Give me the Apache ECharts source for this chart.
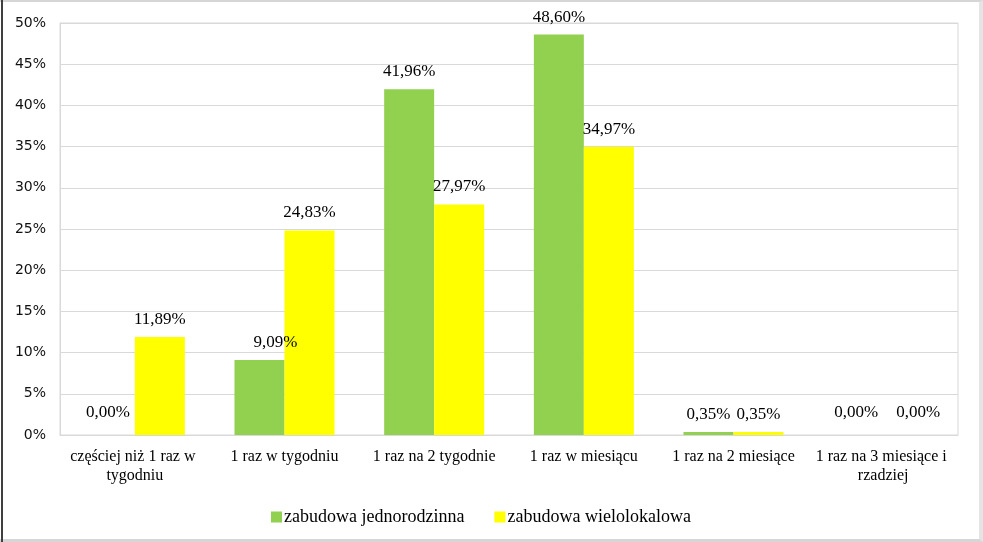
<!DOCTYPE html>
<html>
<head>
<meta charset="utf-8">
<script src="https://cdn.jsdelivr.net/npm/echarts@6/dist/echarts.min.js"></script>
<style>
html,body{margin:0;padding:0;background:#fff;}
#wrap{position:relative;width:983px;height:542px;overflow:hidden;}
#chart{position:absolute;left:0;top:0;width:983px;height:542px;}
#frame{position:absolute;left:0;top:0;width:983px;height:542px;box-sizing:border-box;pointer-events:none;
 border-top:2px solid #d6d6d6;border-bottom:3px solid #d6d6d6;border-right:4px solid #e4e4e4;}
#lft{position:absolute;left:1px;top:0;width:2px;height:542px;background:#3f3f3f;pointer-events:none;}
</style>
</head>
<body>
<div id="wrap"><div id="chart"></div><div id="frame"></div><div id="lft"></div></div>
<script>
var categories = ["częściej niż 1 raz w tygodniu", "1 raz w tygodniu", "1 raz na 2 tygodnie", "1 raz w miesiącu", "1 raz na 2 miesiące", "1 raz na 3 miesiące i rzadziej"];
var seriesNames = ["zabudowa jednorodzinna", "zabudowa wielolokalowa"];
var jednorodzinna = [0.00, 9.09, 41.96, 48.60, 0.35, 0.00];
var wielolokalowa = [11.89, 24.83, 27.97, 34.97, 0.35, 0.00];
var yTicks = [0, 5, 10, 15, 20, 25, 30, 35, 40, 45, 50];

var serif = "'Liberation Serif', 'Times New Roman', serif";
function fmt(v){ return v.toFixed(2).replace('.', ',') + '%'; }

var labelStyle = {
  show: true, position: 'top', distance: 9,
  fontFamily: serif, fontSize: 17, color: '#000',
  formatter: function(p){ return fmt(p.value); }
};

var greenData = jednorodzinna.map(function(v, i){
  var d = {value: v};
  if (i === 1) d.label = {offset: [16, 0]};
  else if (v === 0) d.label = {offset: [-2, -5]};
  return d;
});
var yellowData = wielolokalowa.map(function(v, i){
  var d = {value: v};
  if (v === 0) d.label = {offset: [10, -5]};
  return d;
});

var chart = echarts.init(document.getElementById('chart'), null, {renderer: 'canvas'});
chart.setOption({
  animation: false,
  backgroundColor: '#fff',
  grid: {left: 60, right: 25, top: 23, bottom: 107, show: true, borderColor: '#d9d9d9', borderWidth: 1},
  legend: {
    data: seriesNames, left: 266, top: 503, itemWidth: 11, itemHeight: 11, itemGap: 30,
    icon: 'rect',
    textStyle: {fontFamily: serif, fontSize: 18, color: '#000', padding: [0, 0, 0, -3]}
  },
  xAxis: {
    type: 'category', data: categories,
    axisLine: {show: true, lineStyle: {color: '#d9d9d9'}},
    axisTick: {show: false},
    axisLabel: {
      interval: 0, margin: 12, fontFamily: serif, fontSize: 16, color: '#000',
      width: 158, overflow: 'break', lineHeight: 19
    }
  },
  yAxis: {
    type: 'value', min: yTicks[0], max: yTicks[yTicks.length - 1], interval: 5,
    axisLine: {show: true, lineStyle: {color: '#d9d9d9'}},
    axisTick: {show: false},
    splitLine: {lineStyle: {color: '#d9d9d9'}},
    axisLabel: {formatter: '{value}%', margin: 14, fontFamily: "'DejaVu Sans', sans-serif", fontSize: 14, color: '#111'}
  },
  series: [
    {name: seriesNames[0], type: 'bar', data: greenData, barWidth: 50, barGap: '0%',
     itemStyle: {color: '#92d050'}, label: labelStyle},
    {name: seriesNames[1], type: 'bar', data: yellowData, barWidth: 50,
     itemStyle: {color: '#ffff00'}, label: labelStyle}
  ]
});
</script>
</body>
</html>
